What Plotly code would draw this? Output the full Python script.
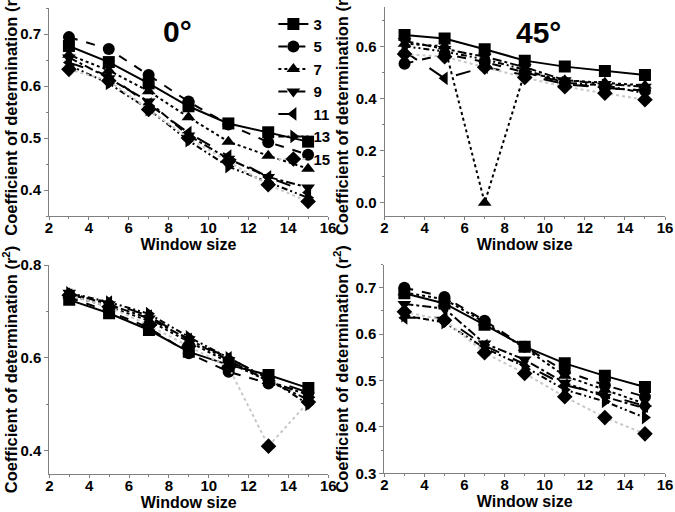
import plotly.graph_objects as go

window = [3, 5, 7, 9, 11, 13, 15]
series_names = ["3", "5", "7", "9", "11", "13", "15"]

# Panel 0°
p0 = {
    "3":  [0.677, 0.646, 0.605, 0.561, 0.528, 0.511, 0.493],
    "5":  [0.694, 0.671, 0.621, 0.570, 0.526, 0.492, 0.468],
    "7":  [0.660, 0.630, 0.590, 0.540, 0.493, 0.466, 0.441],
    "9":  [0.655, 0.615, 0.570, 0.505, 0.460, 0.425, 0.405],
    "11": [0.645, 0.620, 0.565, 0.510, 0.465, 0.425, 0.395],
    "13": [0.640, 0.605, 0.555, 0.495, 0.445, 0.415, 0.385],
    "15": [0.632, 0.610, 0.555, 0.500, 0.455, 0.410, 0.378],
}
# Panel 45°
p45 = {
    "3":  [0.643, 0.630, 0.589, 0.545, 0.522, 0.505, 0.490],
    "5":  [0.533, 0.570, 0.540, 0.500, 0.460, 0.440, 0.430],
    "7":  [0.610, 0.600, 0.000, 0.500, 0.470, 0.460, 0.450],
    "9":  [0.620, 0.590, 0.560, 0.520, 0.470, 0.455, 0.445],
    "11": [0.580, 0.477, 0.520, 0.490, 0.455, 0.440, 0.430],
    "13": [0.600, 0.580, 0.550, 0.510, 0.460, 0.450, 0.420],
    "15": [0.570, 0.560, 0.520, 0.480, 0.445, 0.420, 0.395],
}
# Panel bottom-left
p90 = {
    "3":  [0.725, 0.696, 0.660, 0.613, 0.585, 0.563, 0.535],
    "5":  [0.730, 0.700, 0.665, 0.610, 0.570, 0.545, 0.525],
    "7":  [0.735, 0.710, 0.680, 0.635, 0.590, 0.550, 0.520],
    "9":  [0.740, 0.715, 0.685, 0.640, 0.595, 0.550, 0.510],
    "11": [0.735, 0.720, 0.690, 0.640, 0.600, 0.555, 0.525],
    "13": [0.740, 0.720, 0.695, 0.645, 0.600, 0.555, 0.500],
    "15": [0.735, 0.710, 0.670, 0.625, 0.580, 0.410, 0.505],
}
# Panel bottom-right
p135 = {
    "3":  [0.688, 0.666, 0.620, 0.573, 0.537, 0.510, 0.486],
    "5":  [0.700, 0.680, 0.629, 0.573, 0.520, 0.490, 0.465],
    "7":  [0.690, 0.675, 0.625, 0.570, 0.510, 0.480, 0.450],
    "9":  [0.665, 0.655, 0.580, 0.545, 0.495, 0.465, 0.440],
    "11": [0.635, 0.635, 0.575, 0.535, 0.490, 0.470, 0.445],
    "13": [0.640, 0.625, 0.570, 0.530, 0.480, 0.455, 0.420],
    "15": [0.648, 0.630, 0.560, 0.515, 0.465, 0.420, 0.385],
}

symbols = {"3": "square", "5": "circle", "7": "triangle-up", "9": "triangle-down",
           "11": "triangle-left", "13": "triangle-right", "15": "diamond"}
dashes = {"3": "solid", "5": "dash", "7": "dot", "9": "dashdot",
          "11": "longdash", "13": "6px,3px,2px,3px,2px,3px", "15": "dot"}
colors = {k: "black" for k in series_names}
colors["15"] = "#c8c8c8"

W, H = 675, 512
def px_dom_x(a, b):
    return [a / W, b / W]
def px_dom_y(top, bottom):
    return [1 - bottom / H, 1 - top / H]

panels = [
    # data, xdomain px, ydomain px (top,bottom), yrange, dtick
    (p0,   (49, 328),     (8, 216),       [0.35, 0.75], 0.1),
    (p45,  (384.5, 665),  (7.2, 215.7),   [-0.05, 0.75], 0.2),
    (p90,  (49.3, 328.3), (265, 474),     [0.35, 0.80], 0.2),
    (p135, (384.3, 665),  (264.5, 473.3), [0.30, 0.75], 0.1),
]

FAM = "Liberation Sans, Arial, sans-serif"
tickfont = dict(family=FAM, size=15, color="black", weight="bold")
xtitlefont = dict(family=FAM, size=16, color="black", weight="bold")
ytitlefont = dict(family=FAM, size=16.5, color="black", weight="bold")

fig = go.Figure()
layout = {}
for i, (data, xd, yd, yr, dt) in enumerate(panels):
    n = "" if i == 0 else str(i + 1)
    for name in series_names:
        fig.add_trace(go.Scatter(
            x=window, y=data[name], name=name,
            mode="lines+markers",
            line=dict(color=colors[name], width=2, dash=dashes[name]),
            marker=dict(symbol=symbols[name], size=12, color="black"),
            xaxis="x" + n, yaxis="y" + n,
            showlegend=(i == 0),
        ))
    layout["xaxis" + n] = dict(
        domain=px_dom_x(*xd), range=[2, 16], anchor="y" + n,
        dtick=2, tick0=2, showgrid=False, zeroline=False,
        showline=True, linecolor="#808080", linewidth=1,
        ticks="outside", ticklen=3, tickcolor="#808080",
        minor=dict(ticks="outside", ticklen=2, dtick=1, tickcolor="#808080"),
        tickfont=tickfont, automargin=False, ticklabelstandoff=-5,
        title=dict(text="Window size", font=xtitlefont, standoff=3),
    )
    layout["yaxis" + n] = dict(
        domain=px_dom_y(*yd), range=yr, anchor="x" + n,
        dtick=dt, showgrid=False, zeroline=False,
        showline=True, linecolor="#808080", linewidth=1,
        ticks="outside", ticklen=4, tickcolor="#808080",
        minor=dict(ticks="outside", ticklen=2, dtick=dt / 2, tickcolor="#808080"),
        tickfont=tickfont, tickformat=".1f", automargin=False,
        title=dict(text="Coefficient of determination (r<sup>2</sup>)",
                   font=ytitlefont, standoff=2),
    )

fig.update_layout(
    **layout,
    width=W, height=H,
    margin=dict(l=0, r=0, t=0, b=0, autoexpand=False),
    paper_bgcolor="white", plot_bgcolor="white",
    legend=dict(x=0.405, y=0.985, xanchor="left", yanchor="top",
                font=dict(family=FAM, size=15, color="black", weight="bold"),
                bgcolor="rgba(0,0,0,0)", itemwidth=30,
                traceorder="normal"),
    annotations=[
        dict(text="0°", x=177 / W, y=1 - 31 / H, xref="paper", yref="paper",
             xanchor="center", yanchor="middle",
             showarrow=False, font=dict(family=FAM, size=30, color="black", weight="bold")),
        dict(text="45°", x=538 / W, y=1 - 32 / H, xref="paper", yref="paper",
             xanchor="center", yanchor="middle",
             showarrow=False, font=dict(family=FAM, size=30, color="black", weight="bold")),
    ],
)

fig.write_html("out.html", config={"displayModeBar": False},
               post_script="document.body.style.margin='0';document.body.style.overflow='hidden';")
